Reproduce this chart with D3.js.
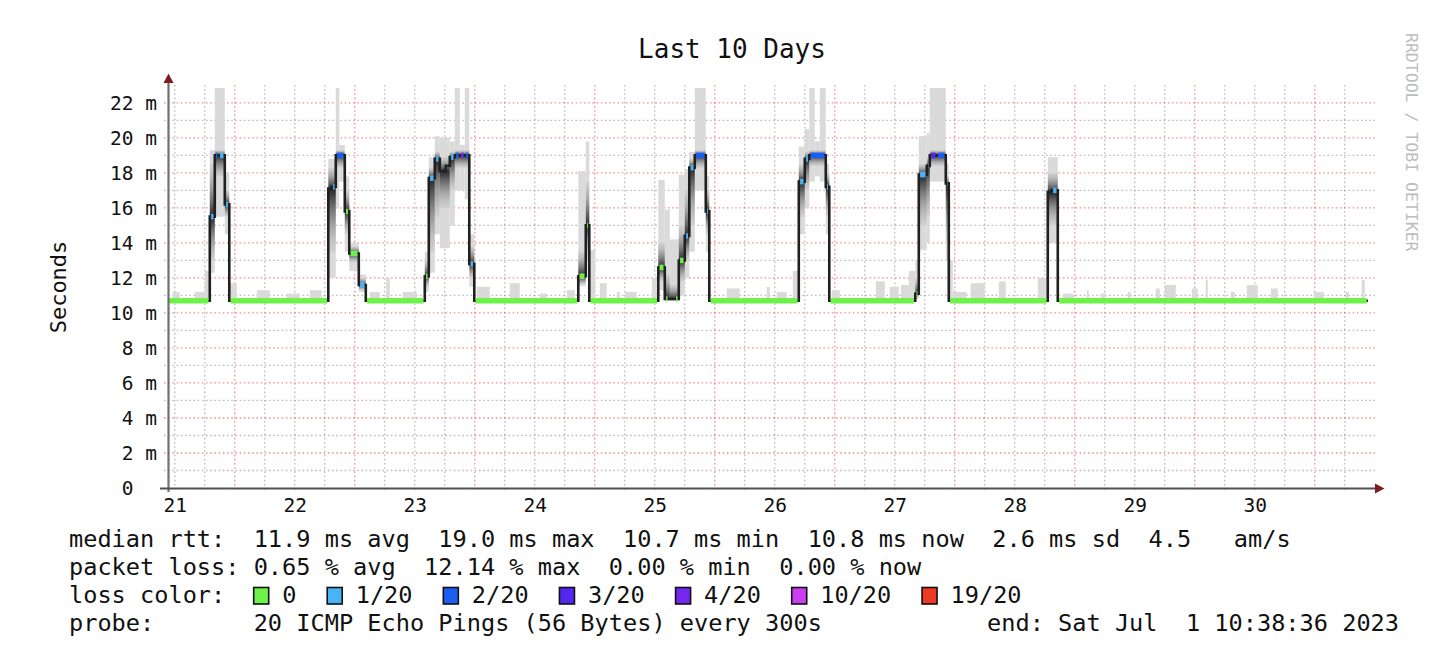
<!DOCTYPE html>
<html>
<head>
<meta charset="utf-8">
<script src="https://cdn.jsdelivr.net/npm/d3@7"></script>
<style>
    body { margin: 0; background: #ffffff; }
    text { font-family: "DejaVu Sans Mono", monospace; }
</style>
</head>
<body>
<div id="container"></div>
<script>
let width = 1450;
let height = 662;

// time is in hours since 2023-06-21 00:00
let startHour = 10 + 38 / 60 + 36 / 3600;
let endHour = startHour + 240;

// median rtt steps: [from hour, ms, loss colour index or null]
let medianSteps = [
    [startHour, 10.7, 0],
    [19.0, 15.5, 1], [20.0, 19.0, 2], [20.8, 19.0, 1], [22.0, 16.2, 1],
    [22.9, 10.7, 0],
    [42.7, 17.1, null], [43.4, 17.2, 1], [44.2, 19.0, 2], [46.0, 15.8, 0],
    [46.9, 13.4, 0], [48.8, 11.6, 1],
    [50.2, 10.7, 0],
    [62.0, 12.1, 0], [62.8, 17.7, 1], [64.0, 18.8, 1], [65.0, 18.1, 1],
    [65.5, 18.1, null], [66.2, 18.4, 1], [66.7, 18.4, null], [67.0, 18.9, 1],
    [68.0, 19.0, 2], [69.0, 19.0, 4], [70.0, 19.0, 2], [70.9, 12.8, 1],
    [71.9, 10.7, 0],
    [92.7, 12.1, 0], [94.2, 15.0, 0],
    [94.9, 10.7, 0],
    [108.7, 12.6, 0], [110.0, 10.8, 0], [110.8, 10.8, null], [112.0, 10.8, 0],
    [112.8, 13.0, 0], [114.0, 14.4, 1], [114.9, 18.3, 1], [116.0, 19.0, 2],
    [118.2, 15.8, 1],
    [118.9, 10.7, 0],
    [136.8, 17.5, 1], [138.0, 18.8, 1], [138.9, 19.0, 2], [142.2, 17.2, 1],
    [142.9, 10.7, 0],
    [160.1, 11.1, 0], [160.8, 17.9, 1], [162.4, 18.4, 1], [163.0, 19.0, 3],
    [164.4, 19.0, 2], [166.2, 17.4, 1],
    [166.8, 10.7, 0],
    [186.6, 16.9, null], [187.4, 17.0, 1],
    [188.6, 10.7, 0]
];

// light smoke: [from hour, to hour, low ms, high ms]
let smokeOuter = [
    [11.6, 13.0, 10.7, 11.2], [16.0, 18.0, 10.7, 11.2], [18.0, 19.0, 10.7, 12.4],
    [19.0, 20.0, 12.3, 19.3], [20.0, 22.0, 15.5, 22.85], [22.0, 22.9, 14.5, 18.0],
    [23.0, 24.4, 10.7, 11.7], [28.4, 31.0, 10.7, 11.3], [34.4, 37.0, 10.7, 11.1],
    [39.0, 41.4, 10.7, 11.3], [42.7, 44.2, 12.0, 18.8], [44.2, 44.9, 16.0, 22.85],
    [44.9, 46.0, 17.5, 19.6], [46.0, 46.9, 13.5, 17.8], [46.9, 48.8, 12.4, 14.0],
    [48.8, 50.2, 11.2, 12.2], [51.0, 53.0, 10.7, 11.2], [54.3, 55.0, 10.7, 12.0],
    [57.6, 60.4, 10.7, 11.2], [62.0, 62.8, 11.2, 13.5], [62.8, 64.0, 12.3, 18.9],
    [64.0, 65.0, 14.5, 20.1], [65.0, 67.0, 13.7, 20.0], [67.0, 68.0, 15.0, 19.8],
    [68.0, 69.0, 17.0, 22.85], [69.0, 70.0, 17.0, 19.6], [70.0, 70.9, 16.5, 22.85],
    [70.9, 71.9, 11.5, 14.5], [72.4, 75.0, 10.7, 11.5], [79.0, 81.0, 10.7, 11.7],
    [85.0, 86.4, 10.7, 11.1], [90.4, 92.0, 10.7, 11.3], [92.7, 94.2, 12.0, 18.1],
    [94.2, 94.9, 13.0, 19.8], [94.9, 96.1, 10.7, 13.6], [97.0, 98.4, 10.7, 11.7],
    [100.4, 101.0, 10.7, 11.2], [102.0, 104.4, 10.7, 11.2], [107.4, 108.4, 10.7, 12.0],
    [108.7, 110.0, 11.3, 17.6], [110.0, 111.0, 10.7, 15.9], [111.0, 112.8, 10.7, 14.2],
    [112.8, 114.0, 11.0, 17.9], [114.0, 114.9, 12.0, 18.2], [114.9, 116.0, 13.5, 19.2],
    [116.0, 118.2, 17.0, 22.85], [118.2, 118.9, 13.5, 17.8], [122.4, 125.0, 10.7, 11.4],
    [130.4, 131.0, 10.7, 11.5], [132.4, 134.4, 10.7, 11.2], [135.6, 136.8, 10.7, 12.4],
    [136.8, 138.0, 14.5, 19.5], [138.0, 138.9, 16.0, 20.5], [138.9, 140.0, 17.5, 22.85],
    [140.0, 141.0, 17.8, 19.8], [141.0, 142.2, 17.5, 22.85], [142.2, 142.9, 14.5, 18.5],
    [143.4, 145.0, 10.7, 11.3], [152.2, 154.0, 10.7, 11.8], [155.0, 156.8, 10.7, 11.5],
    [157.2, 158.8, 10.7, 11.6], [158.8, 160.1, 10.7, 12.4], [160.1, 160.8, 10.8, 13.0],
    [160.8, 162.4, 13.6, 20.1], [162.4, 163.0, 14.0, 20.3], [163.0, 166.2, 17.5, 22.85],
    [166.2, 166.8, 13.0, 18.5], [166.8, 167.6, 10.7, 13.0], [167.6, 170.4, 10.7, 11.2],
    [171.2, 174.0, 10.7, 11.7], [176.8, 178.2, 10.7, 11.8], [184.6, 186.6, 10.7, 12.0],
    [186.6, 188.6, 14.0, 18.9], [189.6, 191.8, 10.7, 11.1], [194.4, 194.8, 10.7, 11.3],
    [197.2, 198.2, 10.7, 11.1], [202.6, 203.2, 10.7, 11.2], [208.2, 209.0, 10.7, 11.4],
    [210.0, 212.2, 10.7, 11.6], [215.4, 216.6, 10.7, 11.4], [218.2, 218.6, 10.7, 11.9],
    [223.2, 224.0, 10.7, 11.2], [226.4, 228.6, 10.7, 11.6], [231.2, 232.6, 10.7, 11.4],
    [239.8, 241.8, 10.7, 11.2], [246.2, 246.8, 10.7, 11.2], [249.4, 250.0, 10.7, 11.9]
];

// dense smoke near the median: [from hour, to hour, low ms, high ms]
let smokeInner = [
    [19.0, 20.0, 13.0, 18.5], [20.0, 22.0, 17.8, 19.3], [22.0, 22.9, 15.5, 17.0],
    [42.7, 44.2, 13.5, 18.3], [44.2, 46.0, 18.3, 19.3], [46.0, 46.9, 14.5, 17.0],
    [46.9, 48.8, 12.9, 13.8], [48.8, 50.2, 11.3, 12.0],
    [62.0, 62.8, 11.5, 13.0], [62.8, 64.0, 13.5, 18.3], [64.0, 65.0, 15.5, 19.2],
    [65.0, 67.0, 16.0, 18.9], [67.0, 68.0, 17.0, 19.2], [68.0, 70.9, 18.3, 19.3],
    [70.9, 71.9, 12.0, 13.8],
    [92.7, 94.2, 11.5, 13.5], [94.2, 94.9, 13.5, 17.5],
    [108.7, 110.0, 11.8, 14.0], [110.0, 111.0, 10.7, 12.2], [111.0, 112.8, 10.7, 11.6],
    [112.8, 114.0, 11.8, 15.0], [114.0, 114.9, 13.0, 17.0], [114.9, 116.0, 15.0, 18.8],
    [116.0, 118.2, 18.3, 19.3], [118.2, 118.9, 14.5, 17.0],
    [136.8, 138.0, 15.5, 18.5], [138.0, 138.9, 17.0, 19.2], [138.9, 142.2, 18.4, 19.3],
    [142.2, 142.9, 15.5, 18.0],
    [160.1, 160.8, 10.9, 12.0], [160.8, 162.4, 15.0, 18.5], [162.4, 163.0, 15.5, 18.9],
    [163.0, 166.2, 18.4, 19.3], [166.2, 166.8, 14.0, 17.8],
    [186.6, 188.6, 15.0, 18.0]
];

let lossLabels = ["0", "1/20", "2/20", "3/20", "4/20", "10/20", "19/20"];
let lossColors = ["#6ef24a", "#48b4f7", "#1a5ef4", "#5426f0", "#7428ec", "#c83ef0", "#ec3a24"];

let legendLines = [
    "median rtt:  11.9 ms avg  19.0 ms max  10.7 ms min  10.8 ms now  2.6 ms sd  4.5   am/s",
    "packet loss: 0.65 % avg  12.14 % max  0.00 % min  0.00 % now",
    "loss color:",
    "probe:       20 ICMP Echo Pings (56 Bytes) every 300s"
];
let endText = "end: Sat Jul  1 10:38:36 2023";

let yTicks = d3.range(0, 23, 2);

let t0 = Date.UTC(2023, 5, 21);
function hourToDate(h) { return new Date(t0 + h * 3600000); }

let svg = d3.select("#container")
    .append("svg")
    .attr("width", width)
    .attr("height", height);

let x = d3.scaleUtc()
    .domain([hourToDate(startHour), hourToDate(endHour)])
    .range([168, 1368]);
let y = d3.scaleLinear()
    .domain([0, 22.85])
    .range([488, 88]);
let xh = (h) => x(hourToDate(h));

// gradients for the dense smoke
let defs = svg.append('defs');
let fadeUp = defs.append('linearGradient').attr('id', 'fadeUp')
    .attr('x1', 0).attr('y1', 1).attr('x2', 0).attr('y2', 0);
let fadeDown = defs.append('linearGradient').attr('id', 'fadeDown')
    .attr('x1', 0).attr('y1', 0).attr('x2', 0).attr('y2', 1);
[fadeUp, fadeDown].forEach((g) => {
    g.append('stop').attr('offset', 0).attr('stop-color', '#161616').attr('stop-opacity', 0.92);
    g.append('stop').attr('offset', 0.4).attr('stop-color', '#4a4a4a').attr('stop-opacity', 0.6);
    g.append('stop').attr('offset', 1).attr('stop-color', '#a8a8a8').attr('stop-opacity', 0.2);
});

// grid
let gridLeft = 164, gridRight = 1375;
let minorY = d3.range(1, 23, 2);
let majorY = d3.range(2, 23, 2);

svg.selectAll('.minorH')
    .data(minorY)
    .enter()
    .append('line')
    .attr('x1', gridLeft).attr('x2', gridRight)
    .attr('y1', (d) => y(d)).attr('y2', (d) => y(d))
    .attr('stroke', 'rgba(120,120,120,0.5)')
    .attr('stroke-width', 1.3)
    .attr('stroke-dasharray', '1.6,2.6');

let sixHours = d3.utcHour.every(6).range(hourToDate(startHour), hourToDate(endHour));
svg.selectAll('.vgrid')
    .data(sixHours)
    .enter()
    .append('line')
    .attr('x1', (d) => x(d)).attr('x2', (d) => x(d))
    .attr('y1', 85).attr('y2', 492)
    .attr('stroke', (d) => d.getUTCHours() == 0 ? 'rgba(235,70,70,0.6)' : 'rgba(120,120,120,0.5)')
    .attr('stroke-width', 1.3)
    .attr('stroke-dasharray', '1.6,2.6');

svg.selectAll('.majorH')
    .data(majorY)
    .enter()
    .append('line')
    .attr('x1', gridLeft).attr('x2', gridRight)
    .attr('y1', (d) => y(d)).attr('y2', (d) => y(d))
    .attr('stroke', 'rgba(235,70,70,0.6)')
    .attr('stroke-width', 1.3)
    .attr('stroke-dasharray', '1.6,2.6');

// smoke
svg.selectAll('.smokeOuter')
    .data(smokeOuter)
    .enter()
    .append('rect')
    .attr('x', (d) => xh(d[0]))
    .attr('width', (d) => xh(d[1]) - xh(d[0]))
    .attr('y', (d) => y(d[3]))
    .attr('height', (d) => y(d[2]) - y(d[3]))
    .attr('fill', '#dadada');

function medianAt(h) {
    let s = medianSteps.filter((d) => d[0] <= h + 1e-6);
    return s[s.length - 1][1];
}

svg.selectAll('.smokeUp')
    .data(smokeInner)
    .enter()
    .append('rect')
    .attr('x', (d) => xh(d[0]))
    .attr('width', (d) => xh(d[1]) - xh(d[0]))
    .attr('y', (d) => y(d[3]))
    .attr('height', (d) => Math.max(0, y(medianAt(d[0])) - y(d[3])))
    .attr('fill', 'url(#fadeUp)');

svg.selectAll('.smokeDown')
    .data(smokeInner)
    .enter()
    .append('rect')
    .attr('x', (d) => xh(d[0]))
    .attr('width', (d) => xh(d[1]) - xh(d[0]))
    .attr('y', (d) => y(medianAt(d[0])))
    .attr('height', (d) => Math.max(0, y(d[2]) - y(medianAt(d[0]))))
    .attr('fill', 'url(#fadeDown)');

// median line
let pts = medianSteps.map((d) => [d[0], d[1]])
    .concat([[endHour, medianSteps[medianSteps.length - 1][1]]]);
let medianLine = d3.line()
    .x((d) => xh(d[0]))
    .y((d) => y(d[1]))
    .curve(d3.curveStepAfter);

svg.append('path')
    .attr('d', medianLine(pts))
    .attr('fill', 'none')
    .attr('stroke', '#202020')
    .attr('stroke-width', 2.6);

let segs = medianSteps.map((d, i) => ({
    h0: d[0],
    h1: i + 1 < medianSteps.length ? medianSteps[i + 1][0] : endHour,
    v: d[1],
    loss: d[2]
})).filter((d) => d.loss !== null);

svg.selectAll('.lossSeg')
    .data(segs)
    .enter()
    .append('line')
    .attr('x1', (d) => xh(d.h0) + 1.3)
    .attr('x2', (d) => xh(d.h1) - 1.3)
    .attr('y1', (d) => y(d.v))
    .attr('y2', (d) => y(d.v))
    .attr('stroke', (d) => lossColors[d.loss])
    .attr('stroke-width', 5.5);

// axes
let yAxis = d3.axisLeft(y)
    .tickValues(yTicks)
    .tickFormat((d) => d == 0 ? '0  ' : d + ' m')
    .tickSize(0)
    .tickPadding(11);

svg.append('g')
    .attr('transform', 'translate(168,0)')
    .call(yAxis)
    .call((g) => g.select('.domain').remove())
    .selectAll('text')
    .attr('font-family', '"DejaVu Sans Mono", monospace')
    .attr('font-size', 19.5)
    .attr('fill', '#111')
    .style('white-space', 'pre');

let noons = d3.utcDay.range(hourToDate(0), hourToDate(endHour))
    .map((d) => d3.utcHour.offset(d, 12))
    .filter((d) => d >= hourToDate(startHour) && d <= hourToDate(endHour));

let xAxis = d3.axisBottom(x)
    .tickValues(noons)
    .tickFormat(d3.utcFormat('%d'))
    .tickSize(0)
    .tickPadding(10);

svg.append('g')
    .attr('transform', 'translate(0,488)')
    .call(xAxis)
    .call((g) => g.select('.domain').remove())
    .selectAll('text')
    .attr('font-family', '"DejaVu Sans Mono", monospace')
    .attr('font-size', 19.5)
    .attr('fill', '#111');

svg.append('line')
    .attr('x1', 168.5).attr('x2', 168.5)
    .attr('y1', 492).attr('y2', 80)
    .attr('stroke', '#707070')
    .attr('stroke-width', 2.2);
svg.append('line')
    .attr('x1', 160).attr('x2', 1377)
    .attr('y1', 488.5).attr('y2', 488.5)
    .attr('stroke', '#505050')
    .attr('stroke-width', 2.2);
svg.append('path')
    .attr('d', 'M163.5,83 L168.5,73.5 L173.5,83 Z')
    .attr('fill', '#7d1c1c');
svg.append('path')
    .attr('d', 'M1375,483.5 L1384.5,488.5 L1375,493.5 Z')
    .attr('fill', '#7d1c1c');

// titles
svg.append('text')
    .attr('x', 732)
    .attr('y', 58)
    .attr('text-anchor', 'middle')
    .attr('font-size', 26)
    .attr('fill', '#111')
    .text('Last 10 Days');

svg.append('text')
    .attr('transform', 'translate(66,287) rotate(-90)')
    .attr('text-anchor', 'middle')
    .attr('font-size', 22)
    .attr('fill', '#111')
    .text('Seconds');

svg.append('text')
    .attr('transform', 'translate(1406,33) rotate(90)')
    .attr('font-size', 16.5)
    .attr('fill', '#bdbdbd')
    .text('RRDTOOL / TOBI OETIKER');

// legend
let legendFont = 23.6;
let cw = legendFont * 0.602;
let lineY = [547, 575, 603, 631];

svg.selectAll('.legendLine')
    .data(legendLines)
    .enter()
    .append('text')
    .attr('x', 69)
    .attr('y', (d, i) => lineY[i])
    .attr('font-size', legendFont)
    .attr('fill', '#111')
    .style('white-space', 'pre')
    .text((d) => d);

svg.append('text')
    .attr('x', 1399)
    .attr('y', lineY[3])
    .attr('text-anchor', 'end')
    .attr('font-size', legendFont)
    .attr('fill', '#111')
    .style('white-space', 'pre')
    .text(endText);

let boxX = [];
let bx = 69 + 13 * cw;
lossLabels.forEach((l) => {
    boxX.push(bx);
    bx = bx + 28.5 + l.length * cw + 30.8;
});

svg.selectAll('.lossBox')
    .data(lossLabels)
    .enter()
    .append('rect')
    .attr('x', (d, i) => boxX[i])
    .attr('y', 587.5)
    .attr('width', 15)
    .attr('height', 16.5)
    .attr('fill', (d, i) => lossColors[i])
    .attr('stroke', '#111')
    .attr('stroke-width', 1.6);

svg.selectAll('.lossLabel')
    .data(lossLabels)
    .enter()
    .append('text')
    .attr('x', (d, i) => boxX[i] + 28.5)
    .attr('y', lineY[2])
    .attr('font-size', legendFont)
    .attr('fill', '#111')
    .text((d) => d);
</script>
</body>
</html>
